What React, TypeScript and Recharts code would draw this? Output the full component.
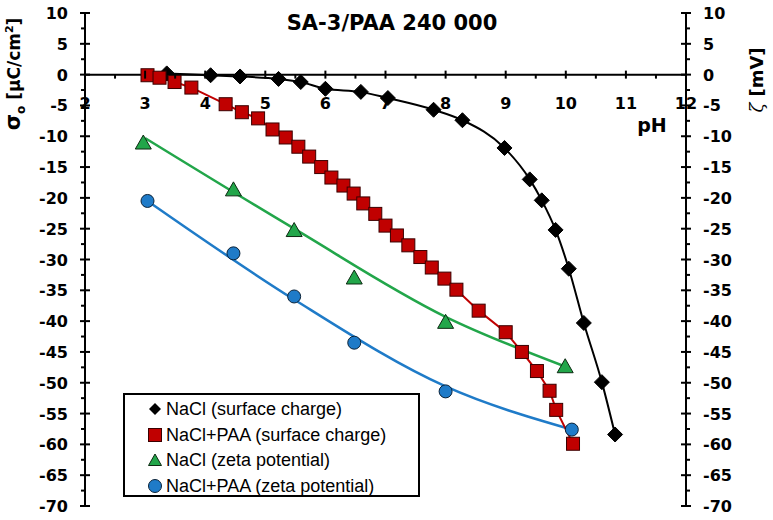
import { LineChart, Line, XAxis, YAxis, ReferenceLine } from 'recharts';

const CHART_W = 773;
const CHART_H = 520;
const MARGIN = { top: 13, right: 0, bottom: 13, left: 0 };
const LEFT_W = 85;
const RIGHT_W = 87;
const X_AXIS_H = 1;
const Y_MIN = -70;
const Y_MAX = 10;

const TITLE = 'SA-3/PAA 240 000';

// axis ticks
const PH_MAJOR = [2, 3, 4, 5, 6, 7, 8, 9, 10, 11, 12];
const Y_MAJOR = [-70, -65, -60, -55, -50, -45, -40, -35, -30, -25, -20, -15, -10, -5, 0, 5, 10];
const PH_TICKS = PH_MAJOR.flatMap((v, i) => (i === 0 ? [v] : [v - 0.5, v]));
const Y_TICKS = Y_MAJOR.flatMap((v, i) => (i === 0 ? [v] : [v - 2.5, v]));

// NaCl, surface charge
const naclPh = [3.36, 4.09, 4.58, 5.22, 5.59, 6.0, 6.59, 7.04, 7.8, 8.28, 8.98, 9.4, 9.6, 9.83, 10.05, 10.3, 10.6, 10.82];
const naclSigma = [0.2, -0.1, -0.3, -0.7, -1.2, -2.3, -2.8, -3.8, -5.7, -7.4, -11.9, -17.0, -20.4, -25.2, -31.5, -40.3, -49.9, -58.4];

// NaCl+PAA, surface charge
const paaPh = [3.04, 3.24, 3.49, 3.77, 4.34, 4.61, 4.88, 5.12, 5.34, 5.55, 5.73, 5.93, 6.1, 6.3, 6.47, 6.63, 6.83, 7.0, 7.19, 7.38, 7.58, 7.77, 7.98, 8.18, 8.55, 9.0, 9.27, 9.52, 9.73, 9.84, 10.12];
const paaSigma = [-0.1, -0.5, -1.2, -2.1, -4.8, -6.1, -7.1, -8.9, -10.2, -11.7, -13.3, -15.0, -16.7, -18.0, -19.3, -20.9, -22.6, -24.5, -26.1, -27.7, -29.6, -31.3, -33.1, -34.9, -38.3, -41.8, -45.0, -48.1, -51.3, -54.4, -59.9];

// NaCl, zeta potential (points + trend curve)
const naclZetaPh = [2.97, 4.47, 5.48, 6.48, 8.0, 9.99];
const naclZeta = [-11.1, -18.7, -25.3, -33.0, -40.2, -47.4];
const naclTrendPh = [3.0, 5.48, 8.0, 10.0];
const naclTrend = [-10.3, -25.0, -39.3, -47.4];

// NaCl+PAA, zeta potential
const paaZetaPh = [3.04, 4.47, 5.48, 6.48, 8.0, 10.1];
const paaZeta = [-20.5, -29.0, -36.0, -43.5, -51.4, -57.6];
const paaTrendPh = [3.04, 5.48, 8.0, 10.1];
const paaTrend = [-20.5, -36.5, -50.6, -57.6];

const toRows = (xs: number[], ys: number[]) => xs.map((ph, i) => ({ ph, v: ys[i] }));

const COLORS = {
  nacl: '#000000',
  paa: '#C00000',
  zetaNacl: '#22A64A',
  zetaPaa: '#1F7BC8',
};

const TICK_FONT = '"DejaVu Sans", sans-serif';
const PLOT_H = CHART_H - MARGIN.top - MARGIN.bottom - X_AXIS_H;
// pixel row of sigma = 0, where the pH axis crosses
const ZERO_Y = MARGIN.top + (PLOT_H * Y_MAX) / (Y_MAX - Y_MIN);

function PhTick(props: any) {
  const { x, payload } = props;
  const v = payload.value;
  const major = Number.isInteger(v);
  return (
    <g>
      <line x1={x} x2={x} y1={major ? ZERO_Y - 4 : ZERO_Y} y2={ZERO_Y + 4} stroke="#000" strokeWidth={2} />
      {major && (
        <text x={x} y={ZERO_Y + 34} textAnchor="middle" fontFamily={TICK_FONT} fontWeight="bold" fontSize={16} fill="#000">
          {v}
        </text>
      )}
    </g>
  );
}

function makeYTick(side: 'left' | 'right') {
  return function YTick(props: any) {
    const { x, y, payload } = props;
    const v = payload.value;
    const major = v % 5 === 0;
    const out = side === 'left' ? -1 : 1;
    return (
      <g>
        {major ? (
          <line x1={x - 5} x2={x + 5} y1={y} y2={y} stroke="#000" strokeWidth={2} />
        ) : (
          <line x1={x} x2={x + out * 4} y1={y} y2={y} stroke="#000" strokeWidth={2} />
        )}
        {major && (
          <text
            x={x + out * 17}
            y={y + 6}
            textAnchor={side === 'left' ? 'end' : 'start'}
            fontFamily={TICK_FONT}
            fontWeight="bold"
            fontSize={16}
            fill="#000"
          >
            {v}
          </text>
        )}
      </g>
    );
  };
}

const LeftTick = makeYTick('left');
const RightTick = makeYTick('right');

function Diamond({ cx, cy }: { cx: number; cy: number }) {
  const r = 7.5;
  return <polygon points={`${cx},${cy - r} ${cx + r},${cy} ${cx},${cy + r} ${cx - r},${cy}`} fill="#000" stroke="#000" strokeWidth={1} />;
}
function Square({ cx, cy }: { cx: number; cy: number }) {
  return <rect x={cx - 6.5} y={cy - 6.5} width={13} height={13} fill={COLORS.paa} stroke="#3a0000" strokeWidth={1} />;
}
function Triangle({ cx, cy }: { cx: number; cy: number }) {
  return <polygon points={`${cx},${cy - 8} ${cx + 8},${cy + 6} ${cx - 8},${cy + 6}`} fill={COLORS.zetaNacl} stroke="#0d2a12" strokeWidth={1} />;
}
function Circle({ cx, cy }: { cx: number; cy: number }) {
  return <circle cx={cx} cy={cy} r={6.5} fill={COLORS.zetaPaa} stroke="#0b2238" strokeWidth={1} />;
}

const dot = (Shape: any) => (p: any) => <Shape key={p.index} cx={p.cx} cy={p.cy} />;

const LEGEND = [
  { label: 'NaCl (surface charge)', shape: 'diamond' },
  { label: 'NaCl+PAA (surface charge)', shape: 'square' },
  { label: 'NaCl (zeta potential)', shape: 'triangle' },
  { label: 'NaCl+PAA (zeta potential)', shape: 'circle' },
];

function LegendIcon({ shape }: { shape: string }) {
  return (
    <svg width={16} height={16} style={{ display: 'block' }}>
      {shape === 'diamond' && <polygon points="8,2 14,8 8,14 2,8" fill="#000" />}
      {shape === 'square' && <rect x={1.5} y={1.5} width={13} height={13} fill={COLORS.paa} stroke="#3a0000" />}
      {shape === 'triangle' && <polygon points="8,2 14.5,13.5 1.5,13.5" fill={COLORS.zetaNacl} stroke="#0d2a12" />}
      {shape === 'circle' && <circle cx={8} cy={8} r={6.5} fill={COLORS.zetaPaa} stroke="#0b2238" />}
    </svg>
  );
}

export default function App() {
  return (
    <div style={{ position: 'absolute', left: 0, top: 0, width: CHART_W, height: CHART_H, background: '#fff' }}>
      <LineChart width={CHART_W} height={CHART_H} margin={MARGIN}>
        <XAxis
          type="number"
          dataKey="ph"
          domain={[2, 12]}
          ticks={PH_TICKS}
          interval={0}
          height={X_AXIS_H}
          axisLine={false}
          tickLine={false}
          tickSize={0}
          tickMargin={0}
          tick={PhTick}
          allowDataOverflow
        />
        <YAxis
          yAxisId="left"
          orientation="left"
          type="number"
          domain={[Y_MIN, Y_MAX]}
          ticks={Y_TICKS}
          interval={0}
          width={LEFT_W}
          axisLine={{ stroke: '#000', strokeWidth: 2 }}
          tickLine={false}
          tickSize={0}
          tickMargin={0}
          tick={<LeftTick />}
        />
        <YAxis
          yAxisId="right"
          orientation="right"
          type="number"
          domain={[Y_MIN, Y_MAX]}
          ticks={Y_TICKS}
          interval={0}
          width={RIGHT_W}
          axisLine={{ stroke: '#000', strokeWidth: 2 }}
          tickLine={false}
          tickSize={0}
          tickMargin={0}
          tick={<RightTick />}
        />
        <ReferenceLine yAxisId="left" y={0} stroke="#000" strokeWidth={2} />

        {/* zeta potential trend curves */}
        <Line yAxisId="right" data={toRows(naclTrendPh, naclTrend)} dataKey="v" type="monotone" stroke={COLORS.zetaNacl} strokeWidth={2.5} dot={false} isAnimationActive={false} />
        <Line yAxisId="right" data={toRows(paaTrendPh, paaTrend)} dataKey="v" type="monotone" stroke={COLORS.zetaPaa} strokeWidth={2.5} dot={false} isAnimationActive={false} />

        {/* surface charge */}
        <Line yAxisId="left" data={toRows(naclPh, naclSigma)} dataKey="v" type="monotone" stroke={COLORS.nacl} strokeWidth={2} dot={dot(Diamond)} isAnimationActive={false} />
        <Line yAxisId="left" data={toRows(paaPh, paaSigma)} dataKey="v" type="linear" stroke={COLORS.paa} strokeWidth={2} dot={dot(Square)} isAnimationActive={false} />

        {/* zeta potential points */}
        <Line yAxisId="right" data={toRows(naclZetaPh, naclZeta)} dataKey="v" stroke="none" dot={dot(Triangle)} isAnimationActive={false} />
        <Line yAxisId="right" data={toRows(paaZetaPh, paaZeta)} dataKey="v" stroke="none" dot={dot(Circle)} isAnimationActive={false} />
      </LineChart>

      {/* title and axis titles */}
      <svg width={CHART_W} height={CHART_H} style={{ position: 'absolute', left: 0, top: 0, pointerEvents: 'none' }}>
        <text x={392} y={30} textAnchor="middle" fontFamily={TICK_FONT} fontWeight="bold" fontSize={21} fill="#000">
          {TITLE}
        </text>
        <text x={652} y={132} textAnchor="middle" fontFamily={TICK_FONT} fontWeight="bold" fontSize={19} fill="#000">
          pH
        </text>
        <text transform="translate(20,74) rotate(-90)" textAnchor="middle" fontFamily={TICK_FONT} fontWeight="bold" fontSize={17} fill="#000">
          <tspan fontSize={21}>σ</tspan>
          <tspan fontSize={12} dy={5}>o</tspan>
          <tspan dy={-5}> [μC/cm</tspan>
          <tspan fontSize={11} dy={-7}>2</tspan>
          <tspan dy={7}>]</tspan>
        </text>
        <text transform="translate(763,80) rotate(-90)" textAnchor="middle" fontFamily={TICK_FONT} fontSize={18} fill="#000">
          <tspan fontFamily='"DejaVu Serif", serif' fontStyle="italic">ζ</tspan>
          <tspan fontWeight="bold"> [mV]</tspan>
        </text>
      </svg>

      {/* legend */}
      <div
        style={{
          position: 'absolute',
          left: 123,
          top: 393,
          width: 297,
          height: 104,
          boxSizing: 'border-box',
          border: '2px solid #000',
          background: '#fff',
          fontFamily: '"Liberation Sans", Arial, sans-serif',
          fontSize: 18,
          color: '#000',
        }}
      >
        {LEGEND.map((item, i) => (
          <div
            key={item.label}
            style={{ position: 'absolute', left: 22, top: 3 + i * 25.5, height: 22, display: 'flex', alignItems: 'center', whiteSpace: 'nowrap' }}
          >
            <LegendIcon shape={item.shape} />
            <span style={{ marginLeft: 3, lineHeight: '22px' }}>{item.label}</span>
          </div>
        ))}
      </div>
    </div>
  );
}
